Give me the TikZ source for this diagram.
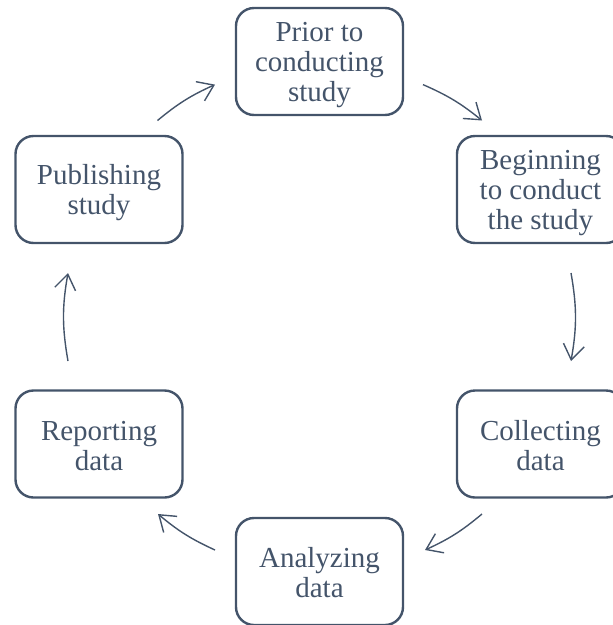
\documentclass[tikz,border=0pt]{standalone}
\usepackage{fontspec}
\setmainfont{Liberation Serif}
\usetikzlibrary{arrows.meta}
\definecolor{slate}{HTML}{44546A}
% struts for the first line's height and the last line's depth,
% so every label is centred on its line boxes
\newcommand{\topstrut}{\rule{0pt}{26pt}}
\newcommand{\botstrut}{\rule[-4pt]{0pt}{4pt}}
\begin{document}
\begin{tikzpicture}[x=1pt,y=-1pt,
  stage/.style={draw=slate, line width=2.4pt, rounded corners=18pt,
    minimum width=167pt, minimum height=107pt, align=center,
    text=slate, font=\rmfamily\fontsize{29}{30}\selectfont, inner sep=0pt},
  flow/.style={draw=slate, line width=1.4pt,
    -{Straight Barb[length=15pt,width=21pt,line width=1.4pt]}}]
\useasboundingbox (0,0) rectangle (613,625);
% the six stages, set around a circle
\node[stage] (prior)   at (319.5,61.5)  {\topstrut Prior to\\conducting\\study\botstrut};
\node[stage] (begin)   at (540.5,189.5) {\topstrut Beginning\\to conduct\\the study\botstrut};
\node[stage] (collect) at (540.5,444)   {\topstrut Collecting\\data\botstrut};
\node[stage] (analyze) at (319.5,571.5) {\topstrut Analyzing\\data\botstrut};
\node[stage] (report)  at (99,444)      {\topstrut Reporting\\data\botstrut};
\node[stage] (publish) at (99,189.5)    {\topstrut Publishing\\study\botstrut};
% ends of the arcs between neighbouring stages
\coordinate (a1) at (157.5,120.5); \coordinate (b1) at (215,84.6);
\coordinate (a2) at (423,84.6);    \coordinate (b2) at (482,120.5);
\coordinate (a3) at (571,273);     \coordinate (b3) at (571,361);
\coordinate (a4) at (482,514);     \coordinate (b4) at (425,550);
\coordinate (a5) at (215,550);     \coordinate (b5) at (158,514);
\coordinate (a6) at (68,361);      \coordinate (b6) at (68,273);
\draw[flow] (a1) to[bend left=7.7] (b1);
\draw[flow] (a2) to[bend left=7.7] (b2);
\draw[flow] (a3) to[bend left=10] (b3);
\draw[flow] (a4) to[bend left=7.7] (b4);
\draw[flow] (a5) to[bend left=7.7] (b5);
\draw[flow] (a6) to[bend left=10] (b6);
\end{tikzpicture}
\end{document}
